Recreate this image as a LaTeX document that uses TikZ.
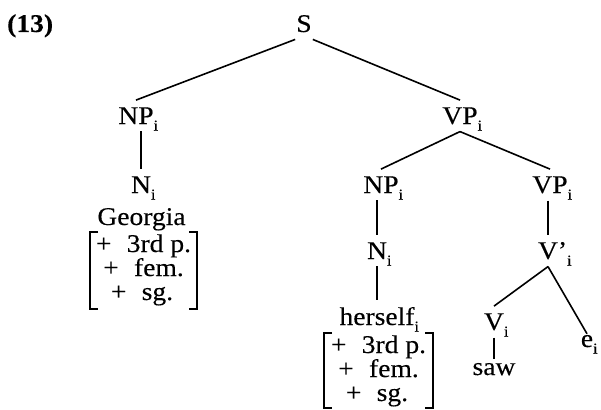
\documentclass[tikz,border=0pt]{standalone}
\usepackage{fontspec}
\setmainfont{Liberation Serif}[FakeStretch=1.08,FakeBold=0.3]
\newcommand\subi[1]{\rlap{\smash{\raisebox{-6.5pt}{\fontsize{15}{15}\selectfont #1}}}}
\begin{document}
\begin{tikzpicture}[x=1pt,y=-1pt,
  lbl/.style={anchor=base,inner xsep=1pt,inner ysep=7pt,font=\fontsize{25.5}{25.5}\selectfont},
  feat/.style={anchor=base,inner sep=0pt,font=\fontsize{25.5}{24}\selectfont},
  branch/.style={line width=1.6pt},
  brk/.style={line width=1.9pt}]
\useasboundingbox (0,0) rectangle (601,409);

% labels
\node[lbl,anchor=base west,inner xsep=0pt,font=\fontsize{25.5}{25.5}\selectfont\bfseries] (num) at (7,32) {(13)};
\node[lbl] (S) at (304,32) {S};
\node[lbl] (NPa) at (136,124) {NP\subi{i}};
\node[lbl] (VPa) at (460,124) {VP\subi{i}};
\node[lbl] (Na) at (141,193) {N\subi{i}};
\node[lbl] (Geo) at (141.5,225) {Georgia};
\node[lbl] (NPb) at (381,193) {NP\subi{i}};
\node[lbl] (VPb) at (550,193) {VP\subi{i}};
\node[lbl] (Nb) at (377,259) {N\subi{i}};
\node[lbl] (Vbar) at (548,259) {V\rlap{’\subi{i}}};
\node[lbl] (her) at (377,325) {herself\subi{i}};
\node[lbl] (V) at (494,330) {V\subi{i}};
\node[lbl,inner ysep=1pt] (e) at (587,347) {e\subi{i}};
\node[lbl,inner ysep=4pt] (saw) at (494,375) {saw};

% feature matrices
\node[feat] (ga1) at (143.5,252) {+\hspace{0.6em}3rd p.};
\node[feat] (ga2) at (143.5,276) {+\hspace{0.6em}fem.};
\node[feat] (ga3) at (142,300) {+\hspace{0.6em}sg.};
\node[feat] (hb1) at (378.5,353) {+\hspace{0.6em}3rd p.};
\node[feat] (hb2) at (378.5,377) {+\hspace{0.6em}fem.};
\node[feat] (hb3) at (377,401) {+\hspace{0.6em}sg.};

\draw[brk] (98,232) -- (90,232) -- (90,309) -- (98,309);
\draw[brk] (189,232) -- (197,232) -- (197,309) -- (189,309);
\draw[brk] (332,333) -- (324,333) -- (324,408) -- (332,408);
\draw[brk] (425,333) -- (433,333) -- (433,408) -- (425,408);

% branches
\draw[branch] (S.south west) -- (NPa.north);
\draw[branch] (S.south east) -- (VPa.north);
\draw[branch] (Na.north |- NPa.south) -- (Na.north);
\draw[branch] (VPa.south) -- (NPb.north);
\draw[branch] (VPa.south) -- (VPb.north);
\draw[branch] (Nb.north |- NPb.south) -- (Nb.north);
\draw[branch] (Nb.south) -- (Nb.south |- her.north);
\draw[branch] (Vbar.north |- VPb.south) -- (Vbar.north);
\draw[branch] (Vbar.south) -- (V.north);
\draw[branch] (Vbar.south) -- (e.north);
\draw[branch] (V.south) -- (V.south |- saw.north);
\end{tikzpicture}
\end{document}
